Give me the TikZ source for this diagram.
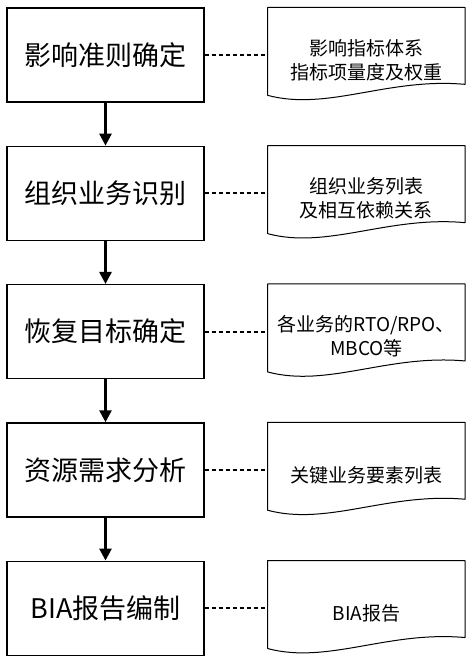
\documentclass[tikz,border=0pt]{standalone}
\usepackage{fontspec}
\setmainfont{Noto Sans CJK SC}
\usetikzlibrary{positioning,arrows.meta}

\begin{document}
\begin{tikzpicture}[stepbox/.style={draw, line width=1.3pt, minimum
width=197pt, minimum height=94pt, inner sep=0pt,
font=\fontsize{27}{30}\selectfont}, output/.style={minimum width=197pt,
inner sep=0pt, align=center, font=\fontsize{19}{24}\selectfont},
flow/.style={line width=2.6pt, -{Triangle[length=12pt,width=12pt]}},
link/.style={line width=2pt, dash pattern=on 4.5pt off 2.5pt},
docline/.style={line width=1pt, line join=round}, node distance=43pt and
63pt] \useasboundingbox (0,0) rectangle (473pt,-661pt); \node (S1) [stepbox]
at (105.5pt,-55pt) {影响准则确定}; \node (S2) [stepbox, below=of S1]
{组织业务识别}; \node (S3) [stepbox, below=of S2] {恢复目标确定}; \node
(S4) [stepbox, below=of S3] {资源需求分析}; \node (S5) [stepbox, below=of
S4] {BIA报告编制}; \node (O1) [output, right=of S1, yshift=-5pt]
{影响指标体系\\指标项量度及权重}; \node (O2) [output, right=of S2,
yshift=-5pt] {组织业务列表\\及相互依赖关系}; \node (O3) [output, right=of
S3, yshift=-5pt] {各业务的RTO/RPO、\\MBCO等}; \node (O4) [output, right=of
S4, yshift=-5pt] {关键业务要素列表}; \node (O5) [output, right=of S5,
yshift=-5pt] {BIA报告}; \draw[flow] (S1) -- (S2); \draw[flow] (S2) --
(S3); \draw[flow] (S3) -- (S4); \draw[flow] (S4) -- (S5); \foreach
\boxname/\docname in {S1/O1,S2/O2,S3/O3,S4/O4,S5/O5} { \draw[link]
(\boxname.east) -- (\boxname.east -| \docname.west); \coordinate (tl) at
(\docname.west |- \boxname.north); \coordinate (tr) at (\docname.east |-
\boxname.north); \draw[docline] (tl) -- (tr) -- ([yshift=-77pt]tr) ..
controls +(-77pt,7pt) and +(60pt,-16pt) .. ([yshift=-88pt]tl) -- cycle; }
\end{tikzpicture}
\end{document}
